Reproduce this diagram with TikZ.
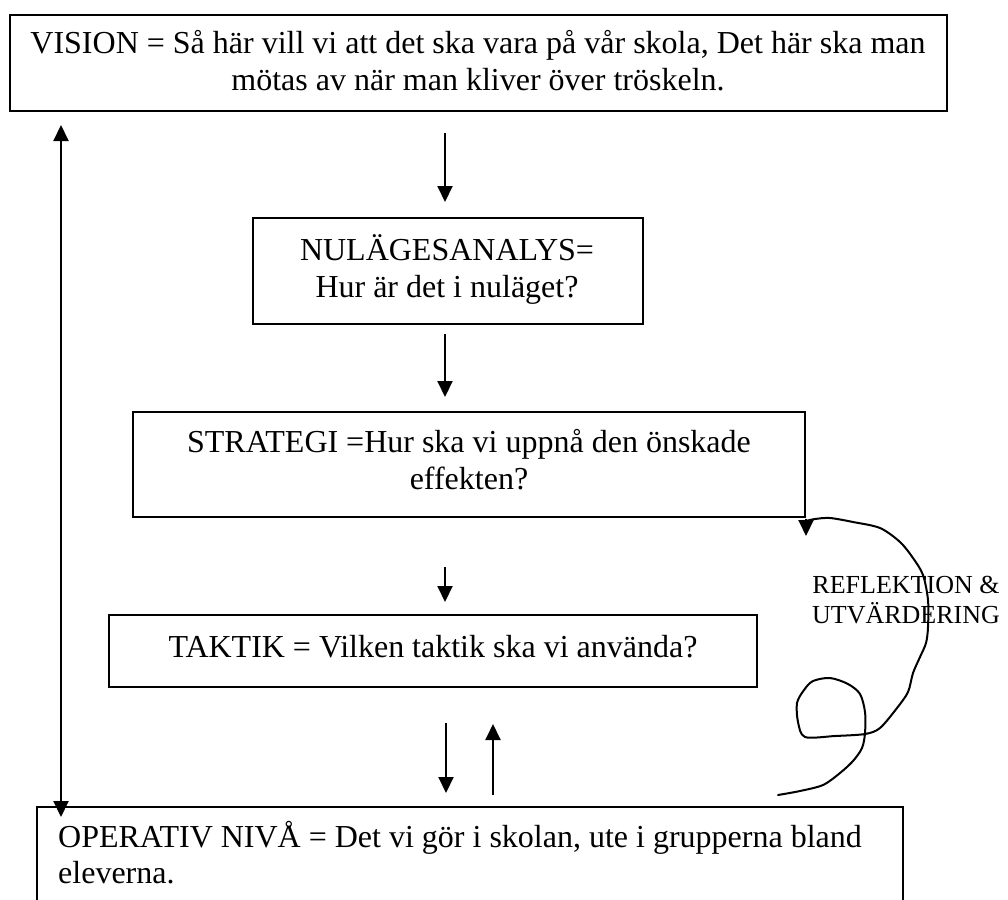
\documentclass[tikz,border=0pt]{standalone}
\usepackage{fontspec}
\setmainfont{Liberation Serif}
\usetikzlibrary{arrows.meta}
\begin{document}
\begin{tikzpicture}[x=1pt,y=-1pt,
  box/.style={draw, line width=2pt, rectangle, inner sep=0pt},
  txt/.style={inner sep=0pt, font=\fontsize{32}{37}\selectfont},
  smalltxt/.style={inner sep=0pt, font=\fontsize{26}{30}\selectfont},
  arr/.style={line width=2pt, -{Triangle[length=16pt,width=15pt]}},
  twoway/.style={line width=2pt, {Triangle[length=16pt,width=15pt]}-{Triangle[length=16pt,width=15pt]}},
  freehand/.style={line width=2pt, line join=round, line cap=round}]
\useasboundingbox (0,0) rectangle (1008,899);
\clip (0,0) rectangle (1008,899);
\fill[white] (0,0) rectangle (1008,899);

% boxes
\node[box, minimum width=937pt, minimum height=96pt]  (vision) at (478,63) {};
\node[box, minimum width=390pt, minimum height=106pt] (nul)    at (448,271) {};
\node[box, minimum width=672pt, minimum height=105pt] (strat)  at (469,464.5) {};
\node[box, minimum width=648pt, minimum height=72pt]  (taktik) at (433,651) {};
\node[box, minimum width=866pt, minimum height=140pt] (oper)   at (470,877) {};

% texts
\node[txt, anchor=base] (vision1) at (478,53) {VISION = Så här vill vi att det ska vara på vår skola, Det här ska man};
\node[txt, anchor=base] (vision2) at (478,90) {mötas av när man kliver över tröskeln.};
\node[txt, anchor=base] (nul1) at (447,260) {NULÄGESANALYS=};
\node[txt, anchor=base] (nul2) at (447,297) {Hur är det i nuläget?};
\node[txt, anchor=base] (strat1) at (469,452) {STRATEGI =Hur ska vi uppnå den önskade};
\node[txt, anchor=base] (strat2) at (469,489) {effekten?};
\node[txt, anchor=base] (taktik1) at (433,657) {TAKTIK = Vilken taktik ska vi använda?};
\node[txt, anchor=base west] (oper1) at (58,847) {OPERATIV NIVÅ = Det vi gör i skolan, ute i grupperna bland};
\node[txt, anchor=base west] (oper2) at (58,883) {eleverna.};
\node[smalltxt, anchor=base] (refl1) at (906,593) {REFLEKTION \&};
\node[smalltxt, anchor=base] (refl2) at (906,623) {UTVÄRDERING};

% arrow columns
\coordinate (colA) at (445,0);
\coordinate (colB) at (446,0);
\coordinate (colC) at (493,0);
\coordinate (colL) at (61,0);

% downward chain
\draw[arr, shorten <=21pt, shorten >=15pt] (vision.south -| colA) -- (nul.north -| colA);
\draw[arr, shorten <=9pt,  shorten >=14pt] (nul.south -| colA) -- (strat.north -| colA);
\draw[arr, shorten <=49pt, shorten >=12pt] (strat.south -| colA) -- (taktik.north -| colA);
\draw[arr, shorten <=35pt, shorten >=13pt] (taktik.south -| colB) -- (oper.north -| colB);
\draw[arr, shorten <=11pt, shorten >=36pt] (oper.north -| colC) -- (taktik.south -| colC);

% long return line on the left
\draw[twoway, shorten <=-11pt, shorten >=13pt] (oper.north -| colL) -- (vision.south -| colL);

% hand-drawn reflection loop
\coordinate (loopstart) at (778,795);
\draw[freehand] plot[smooth, tension=0.5] coordinates {
  (loopstart) (800,791) (823,785) (840,773) (853,761) (862,748) (865,733)
  (865,712) (860,694) (848,684) (830,678) (813,681) (804,690) (797,703)
  (798,722) (805,737) (835,736) (865,734) (880,728) (897,708) (908,692)
  (913,673) (920,657) (926,643) (928,627) (928,600) (923,575) (913,558)
  (900,542) (880,528) (853,522) (830,518) (815,519) (806,521)};
\draw[arr] ([yshift=-1pt]strat.south east) -- ([yshift=-18pt]strat.south east);
\end{tikzpicture}
\end{document}
